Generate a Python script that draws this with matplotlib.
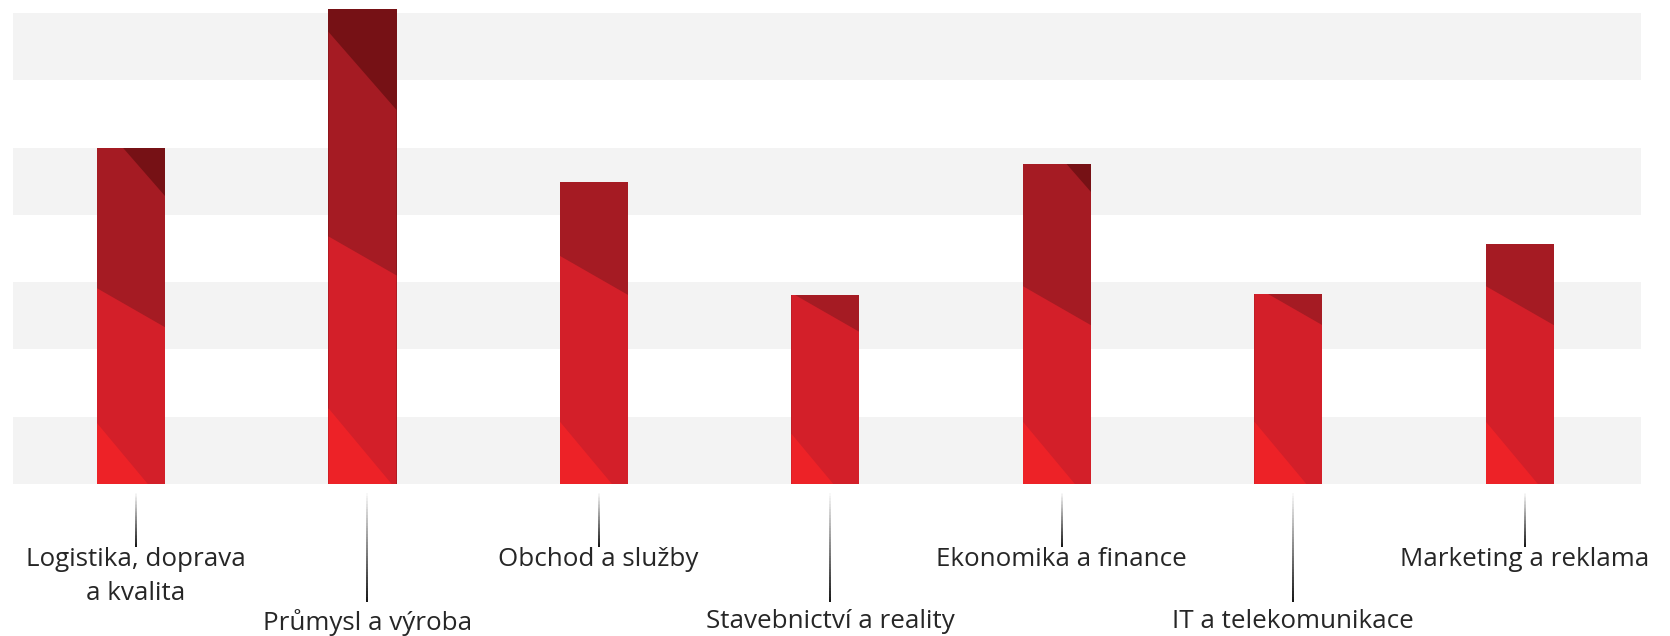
import matplotlib
matplotlib.use("Agg")
import matplotlib.pyplot as plt
import numpy as np
from matplotlib.patches import Rectangle, Polygon
from matplotlib.collections import LineCollection
from matplotlib import transforms

plt.rcParams['font.family'] = ['Open Sans', 'DejaVu Sans']

categories = ["Logistika, doprava\na kvalita", "Průmysl a výroba", "Obchod a služby",
              "Stavebnictví a reality", "Ekonomika a finance", "IT a telekomunikace",
              "Marketing a reklama"]
# bar totals and the levels (taken at the bar centre) where the colour changes
totals = [49.9, 70.6, 44.9, 28.1, 47.6, 28.2, 35.7]
cut_hi = [48.6, 61.4, np.nan, np.nan, 49.2, np.nan, np.nan]
cut_mid = [26.2, 33.9, 31.0, 25.5, 26.5, 26.5, 26.5]
cut_lo = [3.0, 5.2, 3.2, 1.4, 3.2, 3.2, 3.2]
long_tick = [False, True, False, True, False, True, False]

c_darkest = '#761115'
c_dark = '#a51b23'
c_mid = '#d31f29'
c_bright = '#ed2227'
tilt = {'hi': 5.8, 'mid': 2.9, 'lo': 6.06}  # half drop of each diagonal cut
bar_w = 0.294

W, H = 1670, 636
fig = plt.figure(figsize=(W / 100, H / 100), dpi=100)
ax = fig.add_axes([13 / W, (H - 484) / H, 1628 / W, 484 / H])
ax.set_xlim(-0.5097, 6.523)
ax.set_ylim(0, 71.93)
ax.axis('off')

for lo in range(0, 70, 20):
    ax.axhspan(lo, lo + 10, color='#f3f3f3', lw=0, zorder=0)

x = np.arange(len(categories))
for i in range(len(categories)):
    x0, x1 = x[i] - bar_w / 2, x[i] + bar_w / 2
    top_col = c_darkest if not np.isnan(cut_hi[i]) else c_dark
    rect = Rectangle((x0, 0), bar_w, totals[i], color=top_col, lw=0, zorder=2)
    ax.add_patch(rect)
    for lvl, t, col in [(cut_hi[i], tilt['hi'], c_dark),
                        (cut_mid[i], tilt['mid'], c_mid),
                        (cut_lo[i], tilt['lo'], c_bright)]:
        if np.isnan(lvl):
            continue
        poly = Polygon([(x0, -20), (x1, -20), (x1, lvl - t), (x0, lvl + t)],
                       closed=True, color=col, lw=0, zorder=3)
        ax.add_patch(poly)
        poly.set_clip_path(rect)

# gradient tick lines and labels under the bars
trans = transforms.blended_transform_factory(ax.transData, fig.transFigure)
for i, lab in enumerate(categories):
    tx = x[i] + 0.02
    y_top = 493
    y_end = 602 if long_tick[i] else 547
    ys = np.linspace(y_top, y_end, 41)
    segs = [[(tx, (H - ys[k]) / H), (tx, (H - ys[k + 1]) / H)] for k in range(40)]
    cols = [(0, 0, 0, a) for a in np.linspace(0.03, 1, 40)]
    lc = LineCollection(segs, colors=cols, linewidths=1.3, transform=trans, clip_on=False)
    ax.add_collection(lc)
    label_top = 609 if long_tick[i] else 547
    ax.text(tx, (H - label_top) / H, lab, transform=trans, ha='center', va='top',
            fontsize=18.7, color='#262626', linespacing=1.45, clip_on=False)

fig.savefig('out.png', dpi=100)
